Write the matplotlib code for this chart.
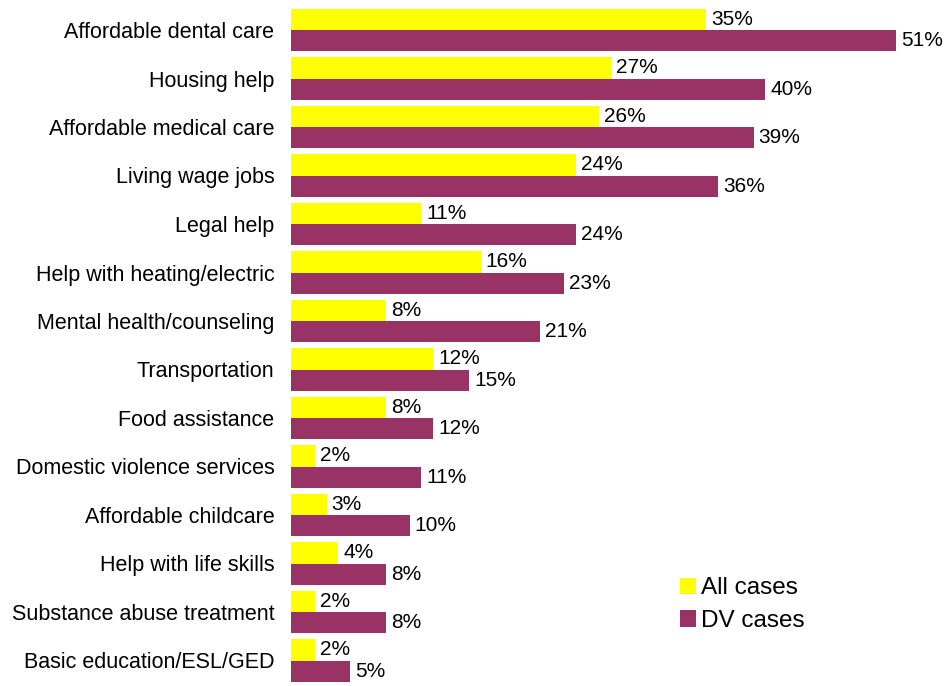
import matplotlib
matplotlib.use('Agg')
import matplotlib.pyplot as plt
import numpy as np

plt.rcParams['font.family'] = ['Liberation Sans', 'DejaVu Sans']

categories = [
    'Affordable dental care', 'Housing help', 'Affordable medical care',
    'Living wage jobs', 'Legal help', 'Help with heating/electric',
    'Mental health/counseling', 'Transportation', 'Food assistance',
    'Domestic violence services', 'Affordable childcare',
    'Help with life skills', 'Substance abuse treatment',
    'Basic education/ESL/GED',
]
all_cases = [35, 27, 26, 24, 11, 16, 8, 12, 8, 2, 3, 4, 2, 2]
dv_cases = [51, 40, 39, 36, 24, 23, 21, 15, 12, 11, 10, 8, 8, 5]

YELLOW = '#FFFF00'
PURPLE = '#993366'

fig = plt.figure(figsize=(9.52, 6.86), dpi=100)
ax = fig.add_axes([291 / 952, 0, 1 - 291 / 952, 1])

y = np.arange(len(categories))
h = 0.433
b1 = ax.barh(y - h / 2, all_cases, height=h, color=YELLOW, label='All cases')
b2 = ax.barh(y + h / 2, dv_cases, height=h, color=PURPLE, label='DV cases')

for bars, vals in ((b1, all_cases), (b2, dv_cases)):
    for bar, v in zip(bars, vals):
        ax.text(bar.get_width() + 0.42, bar.get_y() + bar.get_height() / 2,
                f'{v}%', va='center', ha='left', fontsize=15)

ax.set_xlim(0, 661 / 11.86)
ax.set_ylim(13 + 25.5 / 48.5, -30 / 48.5)
ax.set_yticks(y)
ax.set_yticklabels(categories, fontsize=15.5)
ax.tick_params(axis='y', length=0, pad=12)
ax.set_xticks([])
for s in ax.spines.values():
    s.set_visible(False)

fig.legend(loc='upper left', bbox_to_anchor=(668 / 952, 1 - 565 / 686),
           frameon=False, fontsize=17.5, handlelength=0.65, handleheight=0.65,
           handletextpad=0.2, labelspacing=0.45, borderpad=0)

plt.savefig('out.png', dpi=100)
